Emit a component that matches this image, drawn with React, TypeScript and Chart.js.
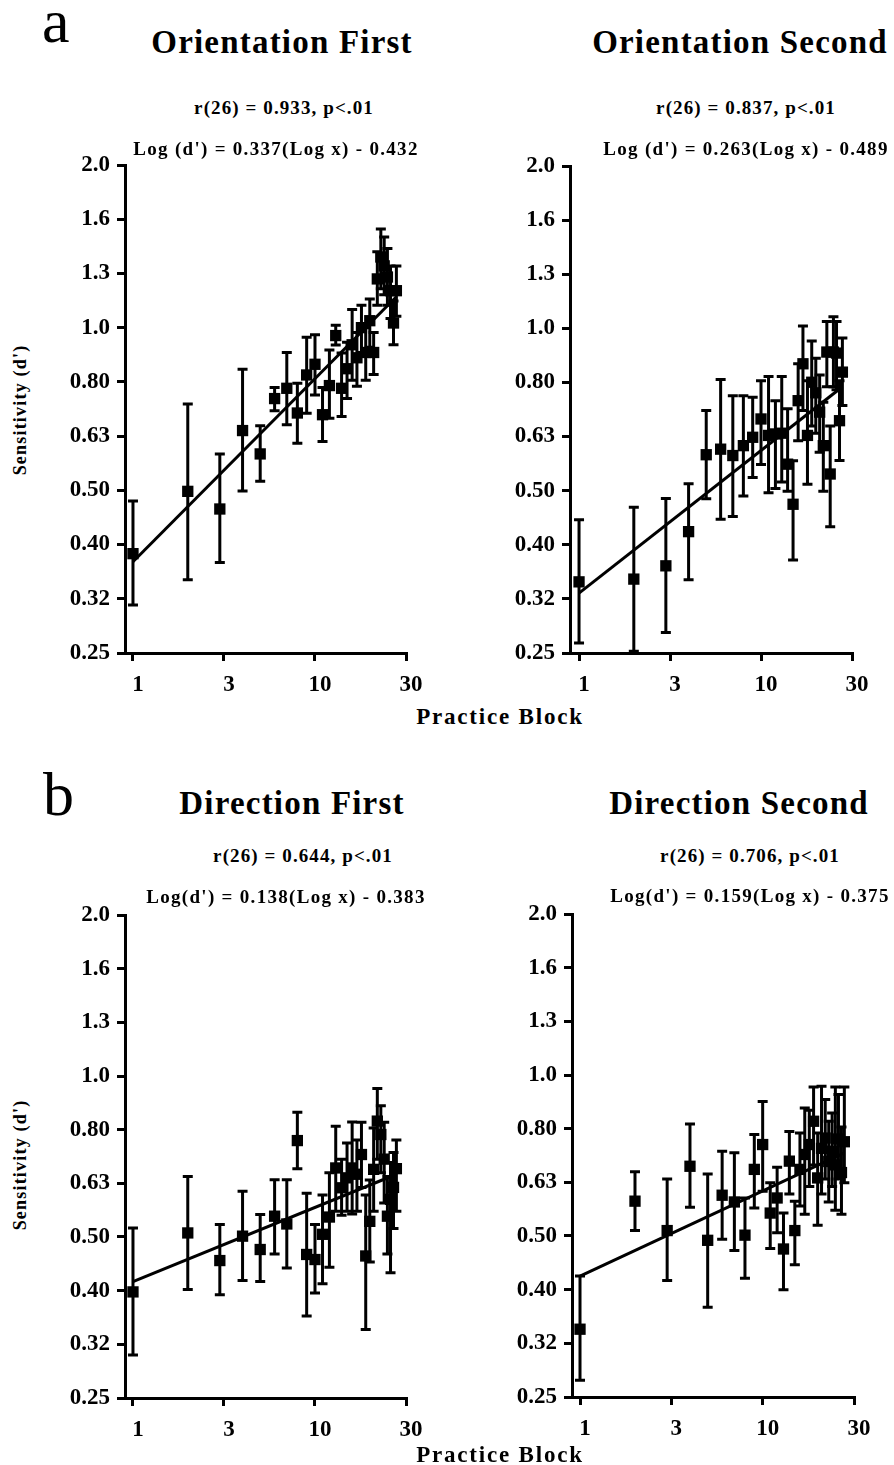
import React, { useEffect, useRef } from "react";
import { Chart, registerables } from "chart.js";
Chart.register(...registerables);

const FONT = "'Liberation Serif', 'Times New Roman', serif";

const blocks = [1, 2, 3, 4, 5, 6, 7, 8, 9, 10, 11, 12, 13, 14, 15, 16, 17, 18, 19, 20, 21, 22, 23, 24, 25, 26, 27, 28];

const yTickValues = [0.25119, 0.31623, 0.39811, 0.50119, 0.63096, 0.79433, 1, 1.25893, 1.58489, 1.99526];
const yTickLabels = ["0.25", "0.32", "0.40", "0.50", "0.63", "0.80", "1.0", "1.3", "1.6", "2.0"];
const xTickValues = [1, 3.1623, 10, 31.623];
const xTickLabels = ["1", "3", "10", "30"];

// Orientation First
const ofMean = [0.383, 0.499, 0.463, 0.646, 0.585, 0.74, 0.773, 0.696, 0.818, 0.856, 0.691, 0.782, 0.967, 0.773, 0.84, 0.93, 0.88, 1.0, 0.9, 1.03, 0.9, 1.23, 1.35, 1.3, 1.24, 1.17, 1.02, 1.17];
const ofLow = [0.308, 0.343, 0.369, 0.5, 0.521, 0.703, 0.662, 0.612, 0.695, 0.751, 0.617, 0.681, 0.929, 0.686, 0.74, 0.8, 0.78, 0.9, 0.8, 0.92, 0.82, 1.1, 1.18, 1.15, 1.1, 1.04, 0.93, 1.05];
const ofHigh = [0.479, 0.723, 0.585, 0.838, 0.659, 0.776, 0.9, 0.79, 0.96, 0.97, 0.776, 0.91, 1.01, 0.898, 0.94, 1.08, 0.98, 1.1, 1.0, 1.13, 0.98, 1.38, 1.52, 1.47, 1.4, 1.3, 1.12, 1.3];
const ofFitX = [1, 28];
const ofFitY = [0.37, 1.14];

// Orientation Second
const osMean = [0.34, 0.344, 0.364, 0.421, 0.584, 0.598, 0.582, 0.607, 0.629, 0.68, 0.634, 0.638, 0.64, 0.561, 0.473, 0.735, 0.86, 0.634, 0.795, 0.76, 0.7, 0.607, 0.904, 0.538, 0.904, 0.9, 0.675, 0.83];
const osLow = [0.262, 0.253, 0.274, 0.343, 0.484, 0.444, 0.449, 0.49, 0.53, 0.56, 0.497, 0.506, 0.52, 0.5, 0.373, 0.62, 0.705, 0.515, 0.66, 0.64, 0.59, 0.5, 0.78, 0.43, 0.78, 0.77, 0.57, 0.72];
const osHigh = [0.443, 0.467, 0.485, 0.516, 0.705, 0.804, 0.751, 0.751, 0.746, 0.8, 0.815, 0.735, 0.815, 0.71, 0.569, 0.86, 1.01, 0.8, 0.948, 0.88, 0.82, 0.73, 1.03, 0.66, 1.05, 1.03, 0.8, 0.96];
const osFitX = [1, 28];
const osFitY = [0.324, 0.78];

// Direction First
const dfMean = [0.396, 0.51, 0.453, 0.503, 0.475, 0.548, 0.53, 0.758, 0.465, 0.455, 0.507, 0.546, 0.674, 0.619, 0.646, 0.674, 0.656, 0.714, 0.462, 0.536, 0.67, 0.824, 0.778, 0.7, 0.548, 0.589, 0.62, 0.672];
const dfLow = [0.302, 0.4, 0.391, 0.416, 0.414, 0.466, 0.439, 0.672, 0.357, 0.394, 0.41, 0.44, 0.56, 0.55, 0.56, 0.553, 0.56, 0.62, 0.337, 0.45, 0.56, 0.7, 0.66, 0.58, 0.466, 0.43, 0.52, 0.56];
const dfHigh = [0.521, 0.65, 0.529, 0.61, 0.552, 0.641, 0.641, 0.856, 0.605, 0.529, 0.6, 0.66, 0.806, 0.7, 0.75, 0.821, 0.76, 0.82, 0.6, 0.64, 0.8, 0.948, 0.88, 0.82, 0.65, 0.69, 0.72, 0.76];
const dfFitX = [1, 28];
const dfFitY = [0.414, 0.656];

// Direction Second
const dsMean = [0.336, 0.582, 0.513, 0.676, 0.492, 0.597, 0.58, 0.503, 0.667, 0.742, 0.553, 0.59, 0.474, 0.691, 0.513, 0.667, 0.711, 0.742, 0.82, 0.643, 0.73, 0.763, 0.69, 0.721, 0.68, 0.76, 0.658, 0.751];
const dsLow = [0.27, 0.513, 0.414, 0.567, 0.369, 0.494, 0.471, 0.418, 0.565, 0.607, 0.475, 0.508, 0.398, 0.6, 0.443, 0.57, 0.55, 0.62, 0.68, 0.525, 0.6, 0.64, 0.58, 0.62, 0.56, 0.64, 0.55, 0.63];
const dsHigh = [0.422, 0.66, 0.64, 0.81, 0.654, 0.721, 0.716, 0.59, 0.775, 0.893, 0.63, 0.673, 0.553, 0.785, 0.582, 0.78, 0.868, 0.86, 0.95, 0.78, 0.953, 0.9, 0.82, 0.85, 0.95, 0.92, 0.8, 0.95];
const dsFitX = [1, 28];
const dsFitY = [0.422, 0.716];

type PanelProps = {
  cl: number; ct: number; cw: number; ch: number;
  l: number; t: number; r: number; b: number;
  xMin: number;
  mean: number[]; low: number[]; high: number[];
  fitX: number[]; fitY: number[];
};

function Panel(p: PanelProps) {
  const ref = useRef<HTMLCanvasElement>(null);
  useEffect(() => {
    const yAxisW = p.l - p.cl;
    const padTop = p.t - p.ct;
    const padRight = p.cl + p.cw - p.r;
    const xAxisH = p.ct + p.ch - p.b;
    const errPlugin = {
      id: "errBars",
      beforeDatasetsDraw(chart: any) {
        const ctx = chart.ctx;
        const xs = chart.scales.x;
        const ys = chart.scales.y;
        ctx.save();
        ctx.strokeStyle = "#000";
        ctx.lineWidth = 3;
        blocks.forEach((bx, i) => {
          const px = xs.getPixelForValue(bx);
          const pt = ys.getPixelForValue(p.high[i]);
          const pb = ys.getPixelForValue(p.low[i]);
          ctx.beginPath();
          ctx.moveTo(px, pt);
          ctx.lineTo(px, pb);
          ctx.moveTo(px - 5, pt);
          ctx.lineTo(px + 5, pt);
          ctx.moveTo(px - 5, pb);
          ctx.lineTo(px + 5, pb);
          ctx.stroke();
        });
        ctx.restore();
      },
    };
    const tickFont = { family: FONT, size: 23, weight: "bold" as const };
    const chart = new Chart(ref.current as HTMLCanvasElement, {
      type: "scatter",
      data: {
        datasets: [
          {
            data: blocks.map((x, i) => ({ x, y: p.mean[i] })),
            pointStyle: "rect",
            pointRadius: 8,
            backgroundColor: "#000",
            borderColor: "#000",
            borderWidth: 0,
            showLine: false,
          },
          {
            data: p.fitX.map((x, i) => ({ x, y: p.fitY[i] })),
            showLine: true,
            borderColor: "#000",
            borderWidth: 3,
            pointRadius: 0,
          },
        ],
      },
      options: {
        responsive: false,
        animation: false,
        layout: { padding: { top: padTop, right: padRight, bottom: 0, left: 0 } },
        plugins: { legend: { display: false }, tooltip: { enabled: false } },
        scales: {
          x: {
            type: "logarithmic",
            min: p.xMin,
            max: 31.623,
            afterBuildTicks: (s: any) => {
              s.ticks = xTickValues.map((v) => ({ value: v }));
            },
            afterFit: (s: any) => {
              s.height = xAxisH;
            },
            ticks: {
              autoSkip: false,
              maxRotation: 0,
              color: "#000",
              font: tickFont,
              padding: 10,
              labelOffset: 5,
              callback: (_v: any, i: number) => xTickLabels[i],
            },
            grid: { drawOnChartArea: false, drawTicks: true, tickLength: 8, lineWidth: 3, color: "#000" },
            border: { display: true, color: "#000", width: 3 },
          },
          y: {
            type: "logarithmic",
            min: 0.25119,
            max: 1.99526,
            afterBuildTicks: (s: any) => {
              s.ticks = yTickValues.map((v) => ({ value: v }));
            },
            afterFit: (s: any) => {
              s.width = yAxisW;
            },
            ticks: {
              autoSkip: false,
              color: "#000",
              font: tickFont,
              padding: 7,
              callback: (_v: any, i: number) => yTickLabels[i],
            },
            grid: { drawOnChartArea: false, drawTicks: true, tickLength: 8, lineWidth: 3, color: "#000" },
            border: { display: true, color: "#000", width: 3 },
          },
        },
      },
      plugins: [errPlugin],
    } as any);
    return () => chart.destroy();
  }, []);
  return (
    <canvas
      ref={ref}
      width={p.cw}
      height={p.ch}
      style={{ position: "absolute", left: p.cl, top: p.ct, width: p.cw, height: p.ch, display: "block" }}
    />
  );
}

type TProps = { x: number; y: number; size: number; text: string; bold?: boolean; ls?: number; align?: "center" | "left"; rotate?: boolean };

function T({ x, y, size, text, bold = true, ls = 0, align = "center", rotate = false }: TProps) {
  if (rotate) {
    return (
      <div
        style={{
          position: "absolute",
          left: x,
          top: y,
          fontFamily: FONT,
          fontWeight: bold ? 700 : 400,
          fontSize: size,
          letterSpacing: ls,
          lineHeight: 1,
          whiteSpace: "nowrap",
          transform: "translate(-50%, -50%) rotate(-90deg)",
          color: "#000",
        }}
      >
        {text}
      </div>
    );
  }
  return (
    <div
      style={{
        position: "absolute",
        left: x,
        top: y - 0.8375 * size,
        fontFamily: FONT,
        fontWeight: bold ? 700 : 400,
        fontSize: size,
        letterSpacing: ls,
        lineHeight: 1,
        whiteSpace: "nowrap",
        transform: align === "center" ? "translateX(-50%)" : undefined,
        color: "#000",
      }}
    >
      {text}
    </div>
  );
}

export default function App() {
  return (
    <div style={{ position: "absolute", left: 0, top: 0, width: 894, height: 1465, background: "#fff", overflow: "hidden" }}>
      <Panel cl={50} ct={140} cw={380} ch={560} l={125} t={165} r={406} b={653} xMin={0.904} mean={ofMean} low={ofLow} high={ofHigh} fitX={ofFitX} fitY={ofFitY} />
      <Panel cl={495} ct={140} cw={385} ch={560} l={570} t={166} r={852} b={653} xMin={0.892} mean={osMean} low={osLow} high={osHigh} fitX={osFitX} fitY={osFitY} />
      <Panel cl={50} ct={890} cw={380} ch={560} l={125} t={915} r={406} b={1398} xMin={0.904} mean={dfMean} low={dfLow} high={dfHigh} fitX={dfFitX} fitY={dfFitY} />
      <Panel cl={495} ct={890} cw={385} ch={560} l={572} t={914} r={854} b={1397} xMin={0.904} mean={dsMean} low={dsLow} high={dsHigh} fitX={dsFitX} fitY={dsFitY} />

      <T x={42} y={42} size={62} text="a" bold={false} align="left" />
      <T x={282} y={54} size={33} ls={1.2} text="Orientation First" />
      <T x={284} y={114} size={19} ls={1.1} text="r(26) = 0.933, p<.01" />
      <T x={276} y={155} size={19} ls={1.3} text="Log (d') = 0.337(Log x) - 0.432" />
      <T x={740} y={54} size={33} ls={1.2} text="Orientation Second" />
      <T x={746} y={114} size={19} ls={1.1} text="r(26) = 0.837, p<.01" />
      <T x={746} y={155} size={19} ls={1.3} text="Log (d') = 0.263(Log x) - 0.489" />
      <T x={20} y={410} size={18} ls={1.2} text="Sensitivity (d')" rotate />
      <T x={500} y={724} size={23} ls={1.8} text="Practice Block" />

      <T x={43} y={815} size={62} text="b" bold={false} align="left" />
      <T x={292} y={815} size={33} ls={1.2} text="Direction First" />
      <T x={303} y={862} size={19} ls={1.1} text="r(26) = 0.644, p<.01" />
      <T x={286} y={903} size={19} ls={1.3} text="Log(d') = 0.138(Log x) - 0.383" />
      <T x={739} y={815} size={33} ls={1.2} text="Direction Second" />
      <T x={750} y={862} size={19} ls={1.1} text="r(26) = 0.706, p<.01" />
      <T x={750} y={902} size={19} ls={1.3} text="Log(d') = 0.159(Log x) - 0.375" />
      <T x={20} y={1165} size={18} ls={1.2} text="Sensitivity (d')" rotate />
      <T x={500} y={1462} size={23} ls={1.8} text="Practice Block" />
    </div>
  );
}
